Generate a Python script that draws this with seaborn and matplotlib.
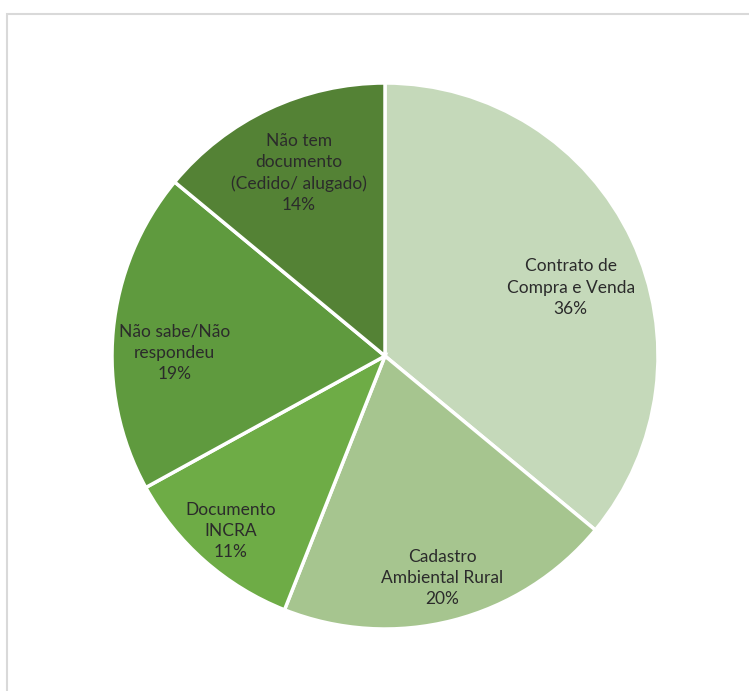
import numpy as np
import matplotlib
matplotlib.use("Agg")
import matplotlib.pyplot as plt
from matplotlib.patches import Rectangle
import seaborn as sns

# Documentation of land tenure (share of respondents)
categories = [
    "Contrato de\nCompra e Venda",
    "Cadastro\nAmbiental Rural",
    "Documento\nINCRA",
    "Não sabe/Não\nrespondeu",
    "Não tem\ndocumento\n(Cedido/ alugado)",
]
shares = [36, 20, 11, 19, 14]
slice_colors = ["#C5D9BA", "#A6C58F", "#6EAC46", "#5F9A3E", "#548235"]
# label placement: distance from centre (fraction of radius) and angular nudge (deg)
label_radius = [0.725, 0.84, 0.855, 0.77, 0.74]
label_nudge = [-5.0, 0.0, 0.0, 4.6, 0.0]

sns.set_theme(style="white")
plt.rcParams["font.family"] = ["Lato", "DejaVu Sans"]

W, H, DPI = 749, 691, 100
fig = plt.figure(figsize=(W / DPI, H / DPI), dpi=DPI)
fig.patch.set_facecolor("white")

# light chart-area border (only top and left fall inside the canvas)
fig.patches.append(Rectangle((7 / W, -0.5), 3, 1.5 - 14 / H, transform=fig.transFigure,
                             fill=False, edgecolor="#D9D9D9", linewidth=1.5))

cx, cy, r = 385, 356, 273
ax = fig.add_axes([(cx - r) / W, (H - cy - r) / H, 2 * r / W, 2 * r / H])
palette = sns.color_palette(slice_colors)
wedges, _ = ax.pie(shares, colors=palette, startangle=90, counterclock=False,
                   radius=1.0,
                   wedgeprops=dict(edgecolor="white", linewidth=2.5))
ax.set_xlim(-1, 1)
ax.set_ylim(-1, 1)
ax.set_aspect("equal")
ax.axis("off")

for w, lab, val, rr, dn in zip(wedges, categories, shares, label_radius, label_nudge):
    mid = np.deg2rad((w.theta1 + w.theta2) / 2 + dn)
    ax.text(rr * np.cos(mid), rr * np.sin(mid), f"{lab}\n{val}%",
            ha="center", va="center", fontsize=12.5, color="#2B2B2B",
            linespacing=1.4)

fig.savefig("out.png", dpi=DPI)
